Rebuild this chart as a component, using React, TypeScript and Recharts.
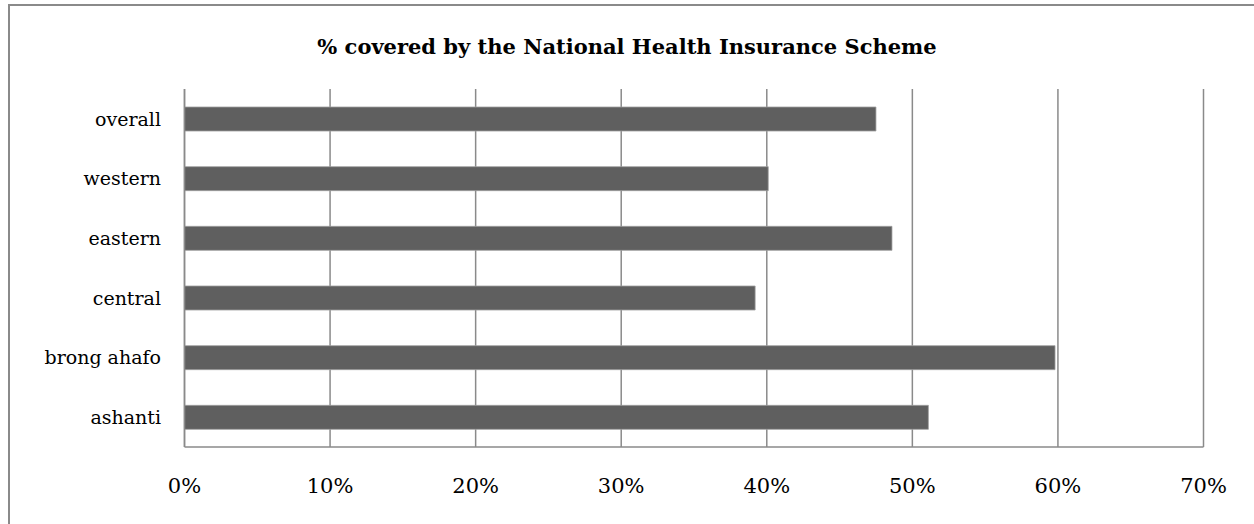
import { Bar, BarChart, CartesianGrid, XAxis, YAxis } from "recharts";

const regions = ["overall", "western", "eastern", "central", "brong ahafo", "ashanti"];
const coverage = [0.475, 0.401, 0.486, 0.392, 0.598, 0.511];
const xTicks = [0, 0.1, 0.2, 0.3, 0.4, 0.5, 0.6, 0.7];

const data = regions.map((region, i) => ({ region, coverage: coverage[i] }));

const serif = "'DejaVu Serif', serif";
const grey = "#8a8a8a";

export default function App() {
  return (
    <div style={{ position: "absolute", left: 0, top: 0, width: 1254, height: 524, overflow: "hidden", background: "#fff" }}>
      <div
        style={{
          position: "absolute",
          left: 8,
          top: 4,
          width: 1270,
          height: 540,
          border: `2px solid ${grey}`,
        }}
      />
      <div
        style={{
          position: "absolute",
          left: 0,
          top: 34,
          width: 1254,
          textAlign: "center",
          fontFamily: serif,
          fontWeight: "bold",
          fontSize: 21,
          color: "#000",
        }}
      >
        % covered by the National Health Insurance Scheme
      </div>
      <div style={{ position: "absolute", left: 0, top: 0 }}>
        <BarChart
          width={1254}
          height={524}
          data={data}
          layout="vertical"
          margin={{ top: 89, right: 50.5, left: 0, bottom: 37 }}
        >
          <CartesianGrid horizontal={false} stroke={grey} strokeWidth={1.5} />
          <XAxis
            type="number"
            domain={[0, 0.7]}
            ticks={xTicks}
            tickFormatter={(v: number) => `${Math.round(v * 100)}%`}
            height={40}
            axisLine={{ stroke: grey, strokeWidth: 1.5 }}
            tickLine={false}
            tickMargin={25}
            tick={{ fill: "#000", fontFamily: serif, fontSize: 21 }}
          />
          <YAxis
            type="category"
            dataKey="region"
            width={184.5}
            axisLine={{ stroke: grey, strokeWidth: 1.5 }}
            tickLine={false}
            tickMargin={17.5}
            tick={{ fill: "#000", fontFamily: serif, fontSize: 19 }}
          />
          <Bar
            dataKey="coverage"
            fill="#5f5f5f"
            stroke="#a0a0a0"
            strokeWidth={0.8}
            barSize={24}
            isAnimationActive={false}
          />
        </BarChart>
      </div>
    </div>
  );
}
